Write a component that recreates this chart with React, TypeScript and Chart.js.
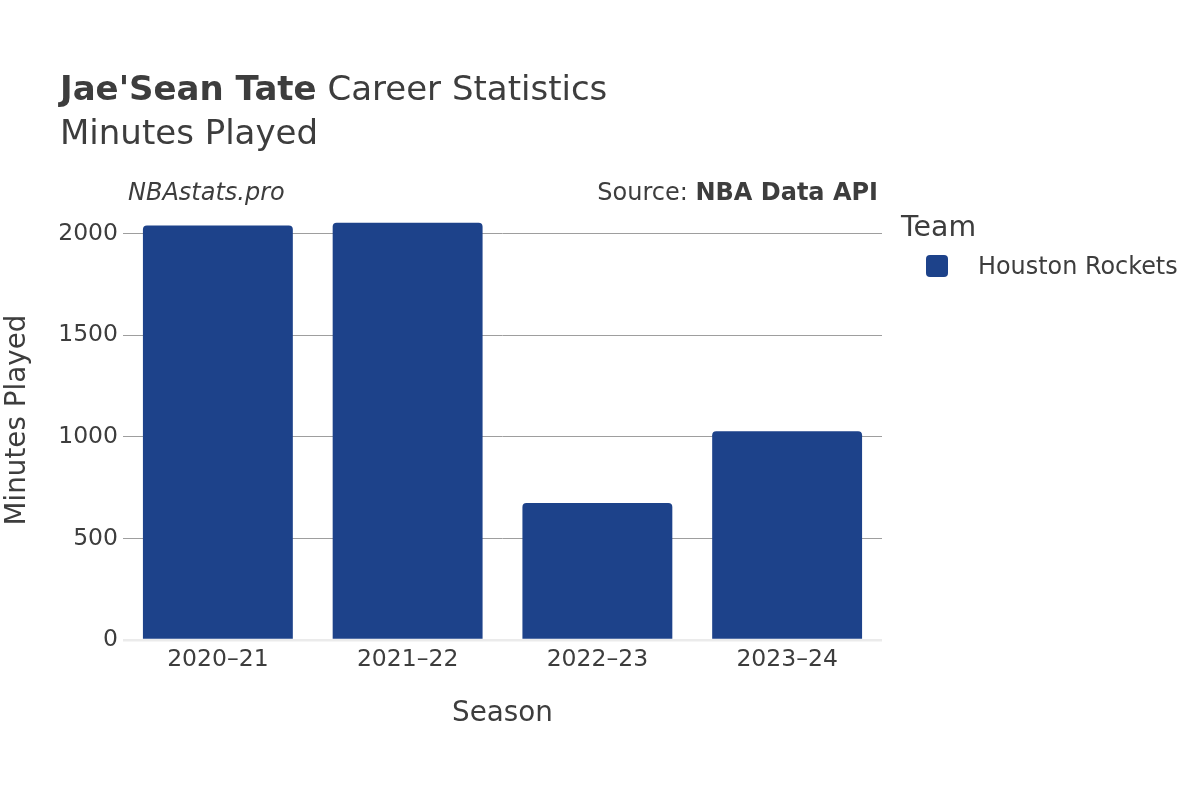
import React, { useEffect, useRef } from "react";
import { Chart, registerables } from "chart.js";

Chart.register(...registerables);

const seasons = ["2020–21", "2021–22", "2022–23", "2023–24"];
const minutesPlayed = [2041, 2054, 674, 1028];
const yTickValues = [0, 500, 1000, 1500, 2000];
const teamName = "Houston Rockets";
const barColor = "#1d428a";
const textColor = "#3d3d3d";
const FONT = "'DejaVu Sans', sans-serif";

const textPlugin = {
  id: "textPlugin",
  afterDraw(chart: any) {
    const ctx = chart.ctx as CanvasRenderingContext2D;
    const area = chart.chartArea;
    ctx.save();
    ctx.fillStyle = textColor;
    ctx.textBaseline = "alphabetic";
    ctx.textAlign = "left";
    // Title
    ctx.font = `bold 34px ${FONT}`;
    const boldPart = "Jae'Sean Tate";
    ctx.fillText(boldPart, 60, 100);
    const w = ctx.measureText(boldPart).width;
    ctx.font = `34px ${FONT}`;
    ctx.fillText(" Career Statistics", 60 + w, 100);
    ctx.fillText("Minutes Played", 60, 144);
    // watermark & source
    ctx.textBaseline = "middle";
    ctx.font = `italic 24px ${FONT}`;
    ctx.fillText("NBAstats.pro", 128, 193.5);
    ctx.textAlign = "right";
    ctx.font = `bold 24px ${FONT}`;
    const src = "NBA Data API";
    ctx.fillText(src, 878, 193.5);
    const sw = ctx.measureText(src).width;
    ctx.font = `24px ${FONT}`;
    ctx.fillText("Source: ", 878 - sw, 193.5);
    // Axis titles
    ctx.textAlign = "center";
    ctx.font = `27.8px ${FONT}`;
    ctx.fillText("Season", (area.left + area.right) / 2, 714);
    ctx.save();
    ctx.translate(18, 420);
    ctx.rotate(-Math.PI / 2);
    ctx.fillText("Minutes Played", 0, 0);
    ctx.restore();
    // Legend
    ctx.textAlign = "left";
    ctx.font = `28.4px ${FONT}`;
    ctx.fillText("Team", 901, 229);
    ctx.fillStyle = barColor;
    ctx.beginPath();
    (ctx as any).roundRect(926, 255, 22, 22, 4);
    ctx.fill();
    ctx.fillStyle = textColor;
    ctx.font = `23.9px ${FONT}`;
    ctx.fillText(teamName, 978, 268);
    ctx.restore();
  },
};

export default function App() {
  const ref = useRef<HTMLCanvasElement>(null);
  useEffect(() => {
    document.body.style.margin = "0";
    const chart = new Chart(ref.current as HTMLCanvasElement, {
      type: "bar",
      data: {
        labels: seasons,
        datasets: [
          {
            label: teamName,
            data: minutesPlayed,
            backgroundColor: barColor,
            borderRadius: 4,
            borderSkipped: "bottom",
            categoryPercentage: 1,
            barPercentage: 0.79,
          },
        ],
      },
      options: {
        responsive: false,
        animation: false,
        layout: { padding: { top: 213.5, right: 318, left: 0, bottom: 0 } },
        plugins: { legend: { display: false }, title: { display: false }, tooltip: { enabled: false } },
        scales: {
          x: {
            grid: { display: false },
            border: { display: false },
            ticks: { color: textColor, font: { family: FONT, size: 23.5 }, padding: -2 },
            afterFit: (s: any) => {
              s.height = 160;
            },
          },
          y: {
            min: 0,
            max: 2100,
            border: { display: false },
            afterBuildTicks: (s: any) => {
              s.ticks = yTickValues.map((v) => ({ value: v }));
            },
            grid: {
              drawTicks: false,
              color: (c: any) => (c.tick && c.tick.value === 0 ? "#ebebeb" : "#9e9e9e"),
              lineWidth: (c: any) => (c.tick && c.tick.value === 0 ? 2.5 : 1),
            },
            ticks: {
              color: textColor,
              font: { family: FONT, size: 23.5 },
              padding: 5,
              callback: (v: any) => String(v),
            },
            afterFit: (s: any) => {
              s.width = 123;
            },
          },
        },
      },
      plugins: [textPlugin],
    });
    return () => chart.destroy();
  }, []);
  return <canvas ref={ref} width={1200} height={800} style={{ display: "block" }} />;
}
